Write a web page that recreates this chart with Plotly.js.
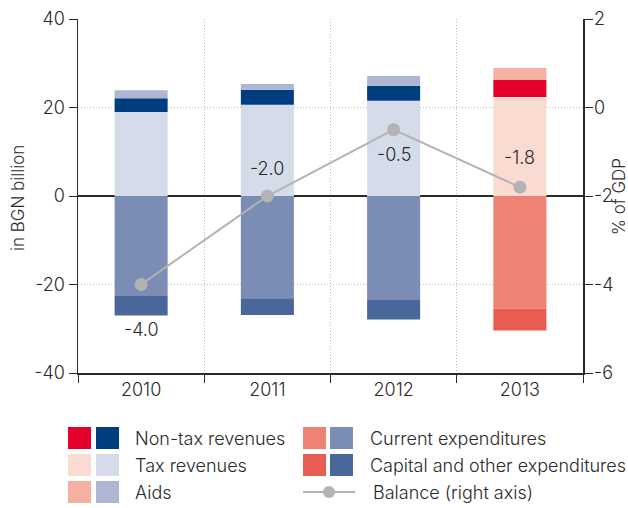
<!DOCTYPE html>
<html><head><meta charset="utf-8">
<script src="https://cdn.plot.ly/plotly-3.0.1.min.js"></script>
<style>body{margin:0;background:#fff}#c{width:628px;height:508px}</style>
</head><body><div id="c"></div>
<script>
const years = ['2010','2011','2012','2013'];
const taxRevenues = [19.0, 20.6, 21.5, 22.4];
const nonTaxRevenues = [3.1, 3.4, 3.4, 3.8];
const aids = [1.8, 1.3, 2.2, 2.7];
const currentExp = [-22.6, -23.1, -23.5, -25.5];
const capitalExp = [-4.4, -3.8, -4.4, -4.9];
const balance = [-4.0, -2.0, -0.5, -1.8];
const balanceLabelShift = [-45, 28, -25, 30];
const leftTicks = [-40, -20, 0, 20, 40];
const leftTickText = ['-40', '-20', '0', '20', '40'];
const rightTicks = [-6, -4, -2, 0, 2];
const rightTickText = ['-6', '-4', '-2', '0', '2'];
const leftTitle = 'in BGN billion';
const rightTitle = '% of GDP';

const blue = {tax:'#d6dbe9', nontax:'#003f7f', aids:'#aeb6d4', cur:'#7b8cb5', cap:'#4a6799'};
const red = {tax:'#fadbd2', nontax:'#e4002b', aids:'#f4b0a0', cur:'#ee8373', cap:'#e85d52'};
const col = k => years.map((y,i)=> i===3 ? red[k] : blue[k]);

const bw = 0.42;
const bar = (y,k)=>({type:'bar', x:years, y:y, width:bw, marker:{color:col(k), line:{width:0}}, hoverinfo:'y', showlegend:false});
const traces = [
  bar(taxRevenues,'tax'), bar(nonTaxRevenues,'nontax'), bar(aids,'aids'),
  bar(currentExp,'cur'), bar(capitalExp,'cap'),
  {type:'scatter', mode:'lines+markers', x:years, y:balance, yaxis:'y2',
   line:{color:'#b3b3b3', width:2}, marker:{color:'#b3b3b3', size:13}, showlegend:false}
];

const txt = '#2a2a2a';
const font = {family:'Inter, Liberation Sans, Arial, sans-serif', size:18, weight:300, color:txt};
const titleFont = Object.assign({}, font, {size:17});
const annotations = years.map((y,i)=>({x:i, y:balance[i], xref:'x', yref:'y2', text:balance[i].toFixed(1),
  showarrow:false, yshift:balanceLabelShift[i], font:font}));

const shapes = [];
const px = x => (x-78)/(583-78);
const py = y => (373-y)/(373-19);
annotations.push({xref:'paper', yref:'paper', x:px(18), y:py(198), textangle:-90, text:leftTitle, showarrow:false, font:titleFont, xanchor:'center', yanchor:'middle', borderpad:0});
annotations.push({xref:'paper', yref:'paper', x:px(619), y:py(197), textangle:-90, text:rightTitle, showarrow:false, font:titleFont, xanchor:'center', yanchor:'middle', borderpad:0});
const swp = (x,yTop,c)=>shapes.push({type:'rect', xref:'paper', yref:'paper', x0:px(x), x1:px(x+23), y0:py(yTop+22), y1:py(yTop), fillcolor:c, line:{width:0}});
const rows = [427, 454, 481];
const leftItems = [['nontax','Non-tax revenues'],['tax','Tax revenues'],['aids','Aids']];
const rightItems = [['cur','Current expenditures'],['cap','Capital and other expenditures']];
leftItems.forEach((it,i)=>{swp(68,rows[i],red[it[0]]); swp(96,rows[i],blue[it[0]]);
  annotations.push({xref:'paper', yref:'paper', x:px(133), y:py(rows[i]+11), xanchor:'left', yanchor:'middle', text:it[1], showarrow:false, font:font});});
rightItems.forEach((it,i)=>{swp(303,rows[i],red[it[0]]); swp(330,rows[i],blue[it[0]]);
  annotations.push({xref:'paper', yref:'paper', x:px(368), y:py(rows[i]+11), xanchor:'left', yanchor:'middle', text:it[1], showarrow:false, font:font});});
shapes.push({type:'line', xref:'paper', yref:'paper', x0:px(303), x1:px(355), y0:py(492), y1:py(492), line:{color:'#b3b3b3', width:2}});
shapes.push({type:'circle', xref:'paper', yref:'paper', x0:px(323), x1:px(335), y0:py(498), y1:py(486), fillcolor:'#b3b3b3', line:{width:0}});
annotations.push({xref:'paper', yref:'paper', x:px(371), y:py(492), xanchor:'left', yanchor:'middle', text:'Balance (right axis)', showarrow:false, font:font});

const grid = {showgrid:true, gridcolor:'#bdbdbd', griddash:'1px,2px', gridwidth:1};
const layout = {
  width:628, height:508, margin:{l:78, r:45, t:19, b:135},
  paper_bgcolor:'#fff', plot_bgcolor:'#fff', font:font,
  barmode:'relative', showlegend:false,
  xaxis:Object.assign({type:'category', tickson:'boundaries', ticks:'outside', ticklen:8, tickcolor:txt,
    showline:true, linecolor:txt, linewidth:1.5, tickfont:font, automargin:false}, grid),
  yaxis:Object.assign({range:[-40,40], tickvals:leftTicks, ticktext:leftTickText, ticks:'outside', ticklen:8, tickcolor:txt,
    showline:true, linecolor:txt, linewidth:1.5, automargin:false,
    zeroline:true, zerolinecolor:txt, zerolinewidth:1.5, tickfont:font}, grid),
  yaxis2:{range:[-6,2], tickvals:rightTicks, ticktext:rightTickText, overlaying:'y', side:'right', ticks:'outside', ticklen:8, tickcolor:txt,
    showline:true, linecolor:txt, linewidth:1.5, showgrid:false, zeroline:false, tickfont:font, automargin:false, ticklabelstandoff:-2},
  annotations:annotations, shapes:shapes
};
Plotly.newPlot('c', traces, layout, {displayModeBar:false, staticPlot:true});
</script></body></html>
